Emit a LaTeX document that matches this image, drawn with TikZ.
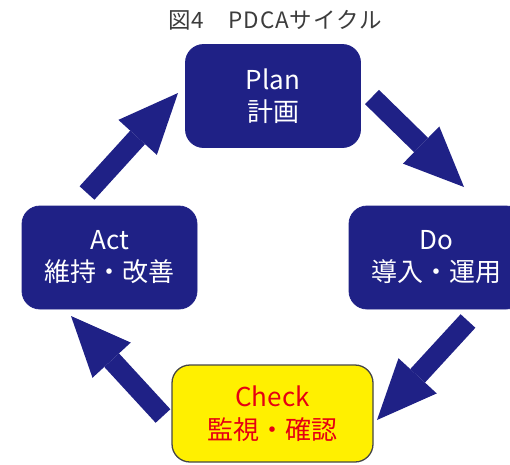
\documentclass[tikz,border=0pt]{standalone}
\usepackage{fontspec}
\newfontfamily\jp{Noto Sans CJK JP}
\newfontfamily\jptitle[LetterSpace=4]{Noto Sans CJK JP}
\usetikzlibrary{arrows.meta}
\definecolor{navy}{RGB}{31,33,134}
\definecolor{cyellow}{RGB}{255,240,0}
\definecolor{cred}{RGB}{230,0,18}
\definecolor{cborder}{RGB}{70,70,70}
\definecolor{ctitle}{RGB}{60,60,60}
\tikzset{
  box/.style={rectangle, rounded corners=18pt, fill=navy, draw=navy, line width=0.8pt,
    text=white, align=center, inner sep=0pt, minimum width=175pt, minimum height=103pt,
    font=\jp\fontsize{26}{32}\selectfont},
  checkbox/.style={box, fill=cyellow, draw=cborder, line width=1.3pt, text=cred,
    minimum width=201pt, minimum height=97pt, font=\jp\fontsize{26}{33}\selectfont},
  blockarrow/.style={draw=navy, line width=20pt,
    -{Triangle[length=60pt,width=52pt,line width=0pt]}},
}
\begin{document}
\begin{tikzpicture}[x=1pt,y=-1pt]
\useasboundingbox (0,0) rectangle (510,464);
\clip (0,0) rectangle (510,464);
\node[font=\jptitle\fontsize{22.5}{26}\selectfont, text=ctitle, inner sep=0pt] (title) at (275,20) {図4　PDCAサイクル};
\node[box] (plan) at (273,96) {Plan\\計画};
\node[box] (act) at (109.5,257.5) {Act\\維持・改善};
\node[box] (do) at (436.5,257.5) {Do\\導入・運用};
\node[checkbox] (check) at (272.5,413.5) {Check\\監視・確認};
\coordinate (a1s) at (372,97);  \coordinate (a1e) at (464,187);
\coordinate (a2s) at (468,321); \coordinate (a2e) at (377,420);
\coordinate (a3s) at (163,416); \coordinate (a3e) at (71,316);
\coordinate (a4s) at (87,193);  \coordinate (a4e) at (178,93);
\draw[blockarrow] (a1s) -- (a1e);
\draw[blockarrow] (a2s) -- (a2e);
\draw[blockarrow] (a3s) -- (a3e);
\draw[blockarrow] (a4s) -- (a4e);
\end{tikzpicture}
\end{document}
